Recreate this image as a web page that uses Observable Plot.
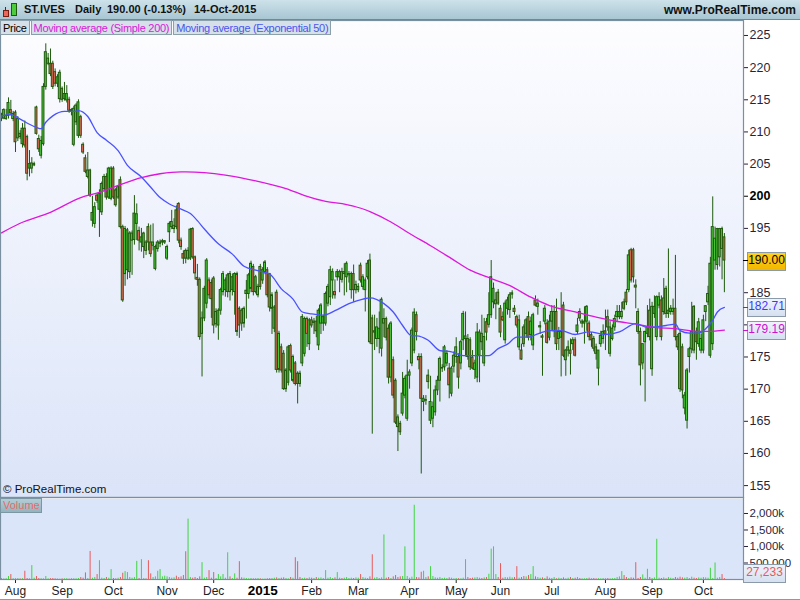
<!DOCTYPE html>
<html><head><meta charset="utf-8">
<script src="https://cdn.jsdelivr.net/npm/d3@7"></script>
<script src="https://cdn.jsdelivr.net/npm/@observablehq/plot@0.6"></script>
<style>
body{margin:0;width:800px;height:600px;position:relative;overflow:hidden;background:#fff;font-family:"Liberation Sans",Arial,sans-serif;}
.abs{position:absolute;box-sizing:border-box;}
#header{left:0;top:0;width:800px;height:20px;background:linear-gradient(#cde2ea,#a8c6d3);border-bottom:1px solid #6d8a97;}
.ht{position:absolute;top:3px;font-size:11px;font-weight:bold;color:#111;white-space:pre;}
#mainbg{left:0;top:20px;width:743px;height:477px;background:linear-gradient(#fdfdff,#dbe4f8);}
#volbg{left:0;top:499px;width:743px;height:80px;background:#dbe5fa;}
#legend{position:absolute;left:0;top:20px;display:flex;z-index:3;}
.leg{height:15px;font-size:11px;letter-spacing:-0.3px;line-height:14px;background:#d5e0e8;border:1px solid #8ba0ab;padding:0 2px;white-space:nowrap;box-sizing:border-box;margin-right:1px;}
.pbox{position:absolute;left:747px;width:37px;height:17px;font-size:12px;line-height:15px;text-align:center;border:1px solid #8a9aa8;z-index:3;}
.ptick{position:absolute;left:743px;width:5px;height:1px;z-index:3;}
svg{position:absolute;left:0;}
</style></head><body>
<div id="header" class="abs">
  <div class="abs" style="left:3px;top:10px;width:6px;height:7px;background:#e8685c;border:1px solid #7a1d10;"></div>
  <div class="abs" style="left:5px;top:7px;width:1px;height:3px;background:#333;"></div>
  <div class="abs" style="left:11px;top:3px;width:6px;height:13px;background:#4ccc3c;border:1px solid #1e5a0c;"></div>
  <span class="ht" style="left:24px">ST.IVES</span>
  <span class="ht" style="left:75px">Daily</span>
  <span class="ht" style="left:107px">190.00 (-0.13%)</span>
  <span class="ht" style="left:194px">14-Oct-2015</span>
  <span class="ht" style="right:4px;font-size:12px">www.ProRealTime.com</span>
</div>
<div id="mainbg" class="abs"></div>
<div id="volbg" class="abs"></div>
<div id="legend">
  <div class="leg" style="color:#000">Price</div>
  <div class="leg" style="color:#d81ad8">Moving average (Simple 200)</div>
  <div class="leg" style="color:#4a55ee">Moving average (Exponential 50)</div>
</div>
<div class="abs" style="left:3px;top:483px;font-size:11.5px;color:#111;z-index:3">© ProRealTime.com</div>
<div class="abs" style="left:0px;top:498px;width:42px;height:15px;font-size:11px;line-height:13px;color:#e86a6a;background:linear-gradient(#b3cdd6,#94b3bf);border:1px solid #7a97a3;padding-left:2px;z-index:3">Volume</div>
<div class="abs" style="left:0;top:599px;width:800px;height:1px;background:#8a9aa6"></div>
<script>
// ---- data ----
const monthIdx = [6,26,48,71,91,112,133,153,175,195,214,236,259,279,301];
const monthLabels = ["Aug","Sep","Oct","Nov","Dec","2015","Feb","Mar","Apr","May","Jun","Jul","Aug","Sep","Oct"];
const priceTicks = [155,160,165,170,175,180,185,190,195,200,205,210,215,220,225];
const volTicks = [500,1000,1500,2000];
const lastClose = 190.00, lastEma = 182.71, lastSma = 179.19, lastVol = 27.233;

const smaIdx = [0,8,21,34,42,51,60,68,77,79,96,109,117,122,130,139,148,156,158,167,175,184,193,201,210,218,227,235,246,255,263,272,280,289,298,303,310];
const smaVal = [194.3,195.8,197.5,199.8,200.6,201.8,202.9,203.5,203.8,203.8,203.3,202.4,201.7,201.2,200.1,199.2,198.7,197.9,197.6,196.0,194.2,192.3,190.3,188.5,187.2,186.1,184.3,183.0,182.0,181.2,180.6,180.1,179.6,179.4,179.0,179.0,179.19];
const emaIdx = [0,4,8,12,15,17,19,22,27,31,33,37,41,45,50,54,60,64,68,72,77,81,84,87,93,99,104,109,115,120,125,129,133,138,143,149,155,158,164,168,172,176,178,183,188,193,198,204,209,213,217,221,226,230,235,240,246,252,259,265,272,277,285,289,291,295,299,302,305,307,310];
const emaVal = [212.5,212.7,212.0,211.2,210.7, 210.5,211.5,212.5,213.2,213.2, 213.3,212.4,209.9,208.7,207.1, 204.8,203.0,201.4,199.8,198.8, 198.0,197.3,196.2,194.9,192.6, 191.0,189.1,188.5,187.9,185.6, 184.0,182.0,181.7,181.5,182.2, 183.3,184.0,184.2,183.3,182.0, 179.9,178.3,178.3,177.6,176.0, 175.8,175.2,175.2,175.2,176.3, 177.0,178.1,178.1,178.6,179.1, 179.1,178.5,178.9,178.5,178.9, 180.2,179.6,179.9,180.1,179.1, 178.7,178.7,179.4,180.7,182.0, 182.71];

// daily candles: [open, high, low, close]
const candles = [
// 0
[212.0,212.9,211.6,212.5],[212.1,213.6,211.9,213.4],[212.0,213.5,211.8,212.5],[212.5,215.3,212.0,214.5],[213.4,214.9,212.5,212.9],
[212.0,213.2,211.6,212.8],[213.0,213.3,206.8,208.4],[209.0,212.4,208.5,212.0],[209.7,210.2,208.8,209.2],[208.1,211.3,207.5,210.5],
// 10
[210.5,211.7,207.5,207.9],[209.2,209.5,202.4,203.5],[204.3,207.1,203.0,205.0],[204.3,206.0,203.5,205.1],[204.8,205.3,204.6,205.0],
[213.8,214.0,209.5,209.7],[208.9,209.5,206.8,207.3],[206.3,209.3,205.8,208.6],[208.1,217.5,207.8,217.0],[217.0,223.7,216.5,222.4],
// 20
[220.6,222.2,220.3,221.4],[220.6,222.9,218.6,219.0],[220.6,221.0,216.6,217.0],[219.3,219.8,217.0,217.5],[217.5,218.9,216.9,218.5],
[215.1,219.6,214.5,219.2],[216.7,217.0,214.6,215.0],[215.1,217.7,214.8,215.9],[214.9,217.2,214.5,215.9],[215.0,215.4,212.9,213.3],
// 30
[213.4,213.6,212.5,213.2],[208.0,214.0,207.7,213.6],[211.5,214.4,211.0,214.1],[209.4,215.0,209.0,214.6],[212.3,212.6,209.0,209.4],
[208.0,208.3,206.5,206.8],[205.9,206.4,203.5,203.8],[203.0,206.8,202.7,204.0],[204.0,204.2,199.8,200.1],[196.2,200.0,195.2,197.4],
// 40
[195.7,199.0,195.0,198.3],[200.1,200.3,198.9,199.3],[197.9,201.0,193.6,200.4],[197.5,202.2,197.0,201.9],[201.1,203.4,200.7,203.0],
[203.0,203.5,199.4,199.8],[199.8,204.5,199.5,204.3],[199.6,204.6,199.3,204.3],[204.3,204.6,199.5,199.8],[200.9,201.2,198.3,198.6],
// 50
[199.8,201.6,199.5,201.4],[202.5,203.0,194.9,195.2],[195.2,195.5,183.5,183.8],[187.9,195.3,186.0,194.9],[188.5,195.0,187.0,194.7],
[188.2,194.5,187.2,194.2],[193.1,194.6,187.7,194.2],[193.2,200.1,192.4,197.3],[195.7,198.8,193.1,197.2],[194.6,195.2,191.5,193.1],
// 60
[192.8,195.0,191.3,193.6],[192.1,194.4,190.3,194.2],[192.8,193.1,190.8,191.5],[195.2,195.7,191.5,192.8],[192.8,195.5,190.5,191.0],
[192.3,195.7,191.5,192.8],[188.7,192.4,188.4,192.1],[191.8,193.1,191.3,192.8],[192.6,193.2,192.0,192.8],[192.8,193.3,192.3,193.0],
// 70
[192.8,193.1,192.5,193.0],[190.3,192.4,190.0,192.1],[194.4,196.0,192.8,195.7],[195.2,197.8,194.8,196.0],[194.9,196.5,194.2,195.4],
[197.8,198.5,194.8,195.2],[198.8,199.0,192.6,193.1],[193.1,193.5,191.6,192.1],[191.0,191.5,189.4,190.3],[191.5,191.8,189.5,190.3],
// 80
[190.3,192.0,190.0,191.5],[190.3,195.0,190.0,194.8],[194.9,195.1,190.2,190.5],[190.5,190.7,187.0,188.0],[187.3,189.4,186.0,187.0],
[187.0,187.3,177.6,178.1],[178.6,182.0,171.9,181.0],[181.0,186.0,180.5,185.6],[183.3,190.3,182.5,190.0],[186.9,187.3,184.0,184.6],
// 90
[186.5,187.0,181.0,184.0],[187.2,187.5,178.6,179.9],[180.1,182.5,179.5,182.0],[179.9,182.5,177.6,182.2],[182.2,185.7,181.5,185.4],
[185.1,188.3,184.5,187.9],[185.4,187.3,184.3,186.9],[185.1,188.0,184.2,187.7],[187.9,188.3,183.7,185.1],[185.4,187.9,184.5,187.4],
// 100
[185.1,188.1,181.5,187.9],[187.9,188.2,178.2,178.9],[182.5,182.8,177.9,179.9],[182.2,182.5,179.0,180.2],[180.2,182.8,179.5,182.5],
[184.8,186.9,180.9,185.3],[184.8,188.0,184.0,187.7],[185.6,189.9,185.0,189.5],[189.0,189.4,184.5,185.1],[185.1,187.7,184.8,187.4],
// 110
[184.6,186.3,184.2,185.9],[189.0,189.4,185.4,185.9],[186.9,188.9,186.3,188.5],[188.2,190.0,187.8,189.7],[188.5,188.9,184.2,184.6],
[187.9,188.0,182.0,182.7],[182.5,185.0,178.5,184.6],[179.4,183.0,178.8,182.7],[185.0,185.4,172.5,173.0],[173.0,179.0,172.5,178.6],
// 120
[176.5,177.0,172.5,172.9],[175.5,176.0,169.8,170.0],[170.0,173.2,169.5,172.9],[171.0,176.8,170.5,176.5],[176.7,177.0,172.5,172.9],
[171.3,175.3,171.0,175.0],[174.0,174.3,170.5,170.8],[172.4,172.7,167.7,170.8],[172.4,172.8,170.3,170.8],[174.0,181.6,173.5,181.2],
// 130
[175.5,181.2,175.0,180.9],[180.9,181.2,176.5,178.6],[177.0,181.0,176.0,180.7],[180.7,181.2,179.5,179.9],[180.3,181.0,178.5,180.5],
[180.5,181.3,178.0,179.0],[176.8,182.5,176.0,182.2],[180.2,183.3,178.5,183.0],[180.2,181.5,179.0,181.2],[180.2,185.1,179.8,184.8],
// 140
[183.3,186.3,182.8,185.9],[184.3,189.1,183.0,188.5],[186.9,188.7,184.0,188.2],[185.1,187.0,184.0,184.6],[187.4,188.6,186.8,188.2],
[187.4,188.5,185.0,188.2],[188.2,188.8,186.5,187.0],[187.9,189.5,184.5,188.2],[187.4,189.8,185.0,189.5],[187.7,188.3,186.5,187.9],
// 150
[185.4,188.2,184.0,187.9],[187.9,189.3,183.5,185.4],[185.4,186.8,184.8,186.2],[185.4,186.4,185.0,185.9],[189.2,189.6,186.5,186.9],
[185.9,187.8,185.4,187.4],[185.4,187.3,182.0,186.9],[187.4,190.0,187.0,189.5],[190.0,191.0,177.0,177.3],[181.0,181.5,163.0,177.0],
// 160
[178.8,181.5,176.0,179.0],[177.8,181.0,176.5,179.6],[177.8,182.0,175.5,179.4],[176.3,184.2,175.0,183.9],[180.2,182.5,178.0,180.9],
[180.9,181.2,177.5,178.0],[179.4,180.0,170.8,171.8],[171.8,180.5,171.0,180.2],[174.5,175.0,168.5,169.0],[171.3,171.6,164.5,164.8],
// 170
[165.6,166.0,160.3,164.1],[164.6,165.0,162.8,163.3],[166.2,172.6,165.8,169.3],[169.0,172.0,168.5,171.6],[165.4,174.5,165.0,172.1],
[172.1,173.0,170.0,172.6],[174.0,179.5,173.5,179.1],[176.0,182.5,175.5,181.9],[181.5,182.0,177.5,178.9],[175.0,175.5,173.0,174.5],
// 180
[175.0,175.5,156.8,168.5],[168.0,169.0,166.5,168.5],[168.2,169.0,167.5,168.3],[172.1,173.0,170.0,171.1],[165.1,172.0,164.5,168.0],
[165.4,168.0,164.0,167.2],[166.4,170.5,165.8,169.8],[169.8,172.0,169.0,171.3],[171.3,175.0,168.0,174.7],[173.2,173.8,172.6,173.3],
// 190
[173.4,176.8,172.8,176.5],[174.0,176.0,173.5,175.5],[173.2,174.0,168.5,170.6],[169.3,173.5,168.8,173.2],[173.5,175.8,172.5,175.2],
[175.0,178.0,174.0,176.5],[175.0,175.5,170.0,171.8],[174.0,177.6,173.0,177.3],[177.6,182.1,176.0,181.7],[177.8,182.0,175.0,178.2],
// 200
[177.8,178.5,174.5,175.0],[177.6,178.0,172.9,173.4],[174.9,176.0,173.0,173.2],[173.0,174.5,171.5,174.0],[171.8,180.2,171.0,178.8],
[175.2,179.2,171.0,178.8],[178.6,181.5,176.0,177.3],[174.0,181.0,173.5,178.1],[180.4,181.0,177.5,178.8],[180.0,185.0,179.5,181.5],
// 210
[181.5,190.0,181.0,187.4],[183.5,186.5,182.5,185.6],[183.2,185.0,180.8,183.8],[185.0,185.5,183.0,183.3],[182.5,183.0,178.0,178.8],
[181.2,182.0,180.5,180.7],[177.6,183.7,177.0,183.3],[182.5,184.3,181.5,183.8],[182.3,185.0,181.0,184.6],[184.7,185.3,184.0,184.9],
// 220
[182.5,183.0,181.5,182.0],[181.2,181.5,179.5,179.9],[176.5,181.5,176.0,180.7],[176.0,177.0,174.5,174.6],[179.6,180.0,176.5,177.0],
[178.6,181.0,178.0,180.7],[181.2,182.0,177.5,178.0],[178.4,181.2,177.5,180.5],[176.8,181.8,176.0,181.5],[183.8,184.5,182.8,183.0],
// 230
[182.8,184.0,181.5,183.3],[179.6,180.5,178.5,179.8],[178.2,178.5,172.0,178.0],[180.5,183.0,180.0,182.5],[180.2,180.8,177.0,177.2],
[178.0,181.5,177.5,180.5],[180.5,183.0,179.0,182.0],[179.0,183.0,178.0,182.0],[182.0,184.0,176.0,177.0],[177.8,179.6,176.0,178.9],
// 240
[178.0,185.0,171.9,178.9],[183.0,183.5,174.9,175.2],[174.5,176.2,172.0,176.0],[176.0,177.5,175.0,176.5],[176.0,177.8,172.2,175.5],
[177.0,178.0,176.0,177.6],[177.6,178.0,175.0,175.2],[178.9,181.0,178.5,179.9],[182.0,182.5,180.5,181.0],[180.2,180.8,179.5,180.5],
// 250
[180.2,182.8,177.0,180.5],[180.5,183.0,179.0,182.8],[180.2,180.6,177.5,178.1],[178.4,178.8,176.5,177.6],[177.8,178.2,175.8,176.3],
[176.5,177.0,174.5,175.5],[173.2,176.0,170.5,176.0],[177.0,179.0,176.5,178.3],[177.8,180.0,177.0,178.9],[179.0,182.3,176.0,178.5],
// 260
[181.2,182.3,179.0,179.6],[175.5,180.5,175.0,179.6],[177.8,180.0,177.5,179.4],[179.6,181.5,179.0,180.9],[181.2,183.0,180.5,182.0],
[181.2,183.0,180.8,182.0],[181.2,183.5,180.8,182.0],[183.5,184.0,182.2,182.5],[185.0,185.5,183.0,183.5],[185.4,191.6,185.0,190.8],
// 270
[191.6,191.9,186.5,186.9],[191.6,191.9,186.5,187.4],[186.1,187.0,182.5,185.8],[182.0,182.5,178.5,178.9],[178.9,179.5,170.5,173.7],
[174.0,177.0,173.0,177.0],[177.3,179.0,168.0,178.9],[178.6,183.0,178.0,179.6],[182.2,184.0,177.5,178.1],[173.1,183.5,172.0,182.8],
// 280
[181.7,184.5,181.0,182.8],[178.1,184.5,177.5,184.3],[183.0,185.0,182.5,184.3],[183.8,184.5,177.5,178.1],[182.0,187.2,181.5,184.1],
[185.6,186.0,181.0,181.7],[181.7,191.8,181.0,182.2],[182.0,183.0,181.5,182.5],[182.0,184.0,181.5,182.5],[182.5,190.8,177.5,178.1],
// 290
[178.1,178.5,176.0,176.5],[178.6,179.0,169.5,170.0],[176.5,177.0,168.5,169.8],[167.0,169.5,166.0,169.0],[165.1,173.2,163.8,172.9],
[175.0,176.5,172.5,176.2],[176.2,183.5,175.5,178.9],[182.8,183.0,175.5,176.0],[178.9,179.5,174.5,177.3],[177.0,181.0,176.5,180.4],
// 300
[176.0,178.5,175.5,177.8],[176.0,181.5,175.5,180.7],[182.0,183.0,180.5,182.9],[183.5,186.0,183.0,184.8],[175.2,190.5,174.8,189.5],
[177.0,199.9,176.0,195.2],[190.0,195.2,188.5,193.4],[189.3,195.0,188.5,194.9],[190.5,195.0,189.0,194.9],[194.9,195.2,187.0,191.8],
// 310
[193.6,194.2,185.0,190.0]
];

// daily volume, thousands of shares
const volumes = [
30,20,25,90,150,25,20,30,20,25,
250,30,20,420,40,90,30,25,20,90,
20,25,30,20,15,10,20,20,25,15,
20,25,20,30,60,40,200,30,850,40,
60,150,570,40,30,60,40,300,30,20,
40,60,190,240,210,60,40,60,550,30,
600,30,20,570,170,60,80,250,300,80,
100,80,60,40,50,100,60,80,120,840,
1830,60,40,60,30,80,510,40,60,270,
40,210,30,150,80,150,40,810,80,30,
170,40,540,50,40,30,20,30,20,25,
30,20,10,15,20,25,30,40,50,30,
40,50,30,20,60,40,660,540,60,30,
40,30,50,40,30,60,40,50,30,270,
40,60,30,50,210,40,30,40,60,30,
40,30,50,40,150,60,40,30,80,750,
40,60,30,50,1350,40,60,30,80,120,
60,80,90,990,90,40,70,2250,60,50,
220,250,60,80,390,90,50,40,60,30,
40,30,50,40,20,30,25,20,40,600,
60,30,40,50,60,40,30,50,60,160,
920,990,150,60,480,40,60,50,70,50,
60,390,40,60,90,80,120,150,390,80,
60,40,50,30,80,40,30,60,20,40,
30,50,20,40,60,30,40,60,30,20,
20,30,40,20,30,20,25,20,30,20,
30,20,25,30,60,80,240,120,60,30,
50,40,510,30,60,140,40,310,60,30,
50,1220,40,30,50,20,60,40,30,60,
40,70,50,40,60,30,70,40,30,50,
40,60,50,40,340,30,500,40,60,150,
27.233
];

// ---- build ----
const UP = "#4ccc3c", DOWN = "#e8685c", EDGE = "#1e5a0c";
const data = candles.map(([o,h,l,c], i) => ({i, o, h, l, c, v: volumes[i], col: c >= o ? UP : DOWN}));
const sma = smaIdx.map((i, k) => ({i, v: smaVal[k]}));
const ema = emaIdx.map((i, k) => ({i, v: emaVal[k]}));
const xDomain = [-0.43, 318.2];
const font = "Liberation Sans, Arial, sans-serif";
// labels hidden behind the last-value boxes on the right axis
const coveredTicks = [180, 190];

const main = Plot.plot({
  width: 800, height: 477, marginLeft: 0, marginRight: 57, marginTop: 0, marginBottom: 0,
  x: {type: "linear", domain: xDomain, axis: null},
  y: {domain: [153.15, 227.33], axis: null},
  color: {type: "identity"},
  style: {background: "transparent", fontFamily: font, overflow: "visible"},
  marks: [
    Plot.ruleX(data, {x: "i", y1: "l", y2: "h", stroke: EDGE, strokeWidth: 1, clip: true}),
    Plot.rect(data, {x1: d => d.i - 0.42, x2: d => d.i + 0.42, y1: d => Math.min(d.o, d.c), y2: d => Math.max(d.o, d.c), fill: "col", stroke: EDGE, strokeWidth: 1, clip: true}),
    Plot.line(sma, {x: "i", y: "v", stroke: "#dd16dd", strokeWidth: 1.3, curve: "monotone-x"}),
    Plot.line(ema, {x: "i", y: "v", stroke: "#4a52ff", strokeWidth: 1.3, curve: "monotone-x"}),
    Plot.axisY({anchor: "right", label: null, ticks: priceTicks.filter(t => t !== 200), tickSize: 4, tickPadding: 2, fontSize: 12.5, color: "#2a1f3a",
      tickFormat: d => coveredTicks.includes(d) ? "" : String(d)}),
    Plot.axisY({anchor: "right", label: null, ticks: [200], tickSize: 4, tickPadding: 2, fontSize: 12.5, fontWeight: "bold", color: "#000", tickFormat: d => String(d)}),
    Plot.frame({stroke: "#7890a0", strokeWidth: 1.2})
  ]
});
main.style.top = "20px";
document.body.appendChild(main);

const vol = Plot.plot({
  width: 800, height: 103, marginLeft: 0, marginRight: 57, marginTop: 0, marginBottom: 21,
  x: {type: "linear", domain: xDomain, axis: null},
  y: {domain: [0, 2484.8], axis: null},
  color: {type: "identity"},
  style: {background: "transparent", fontFamily: font, overflow: "visible"},
  marks: [
    Plot.ruleX(data, {x: "i", y1: 0, y2: "v", stroke: d => d.c >= d.o ? "#3fd43f" : "#e85a5a", strokeWidth: 1}),
    Plot.axisY({anchor: "right", label: null, ticks: volTicks, tickSize: 4, tickPadding: 2, fontSize: 11.5, color: "#2a1f3a",
      tickFormat: d => d === 500 ? "500,000" : d3.format(",")(d) + "k"}),
    Plot.axisX({anchor: "bottom", label: null, ticks: monthIdx.filter((t, k) => monthLabels[k] !== "2015"), tickSize: 4, tickPadding: 3, fontSize: 12, color: "#222",
      tickFormat: d => monthLabels[monthIdx.indexOf(d)]}),
    Plot.axisX({anchor: "bottom", label: null, ticks: monthIdx.filter((t, k) => monthLabels[k] === "2015"), tickSize: 0, tickPadding: 6, fontSize: 13.5, fontWeight: "bold", color: "#000",
      tickFormat: d => monthLabels[monthIdx.indexOf(d)]}),
    Plot.frame({stroke: "#7890a0", strokeWidth: 1.2})
  ]
});
vol.style.top = "497px";
document.body.appendChild(vol);

// last-value boxes on the right axis
const ys = main.scale("y");
function priceBox(val, text, bg, color, tickColor) {
  const y = 20 + ys.apply(val);
  const b = document.createElement("div");
  b.className = "pbox";
  b.style.top = (y - 8.5) + "px";
  b.style.background = bg; b.style.color = color;
  b.textContent = text;
  document.body.appendChild(b);
  const t = document.createElement("div");
  t.className = "ptick"; t.style.top = Math.round(y) + "px"; t.style.background = tickColor;
  document.body.appendChild(t);
}
priceBox(lastClose, lastClose.toFixed(2), "linear-gradient(#ffd21a,#f2b600)", "#000", "#000");
priceBox(lastEma, lastEma.toFixed(2), "linear-gradient(#eef3fb,#d5e0f0)", "#3a3aff", "#3a3aff");
priceBox(lastSma, lastSma.toFixed(2), "linear-gradient(#eef3fb,#d5e0f0)", "#d010d0", "#d010d0");

const yv = vol.scale("y");
const vb = document.createElement("div");
vb.className = "pbox";
vb.style.left = "743px"; vb.style.width = "41px";
vb.style.top = Math.min(497 + yv.apply(lastVol) - 8, 564) + "px";
vb.style.background = "linear-gradient(#eef3fb,#d5e0f0)"; vb.style.color = "#e85a5a";
vb.textContent = d3.format(",")(Math.round(lastVol * 1000));
document.body.appendChild(vb);
</script>
</body></html>
